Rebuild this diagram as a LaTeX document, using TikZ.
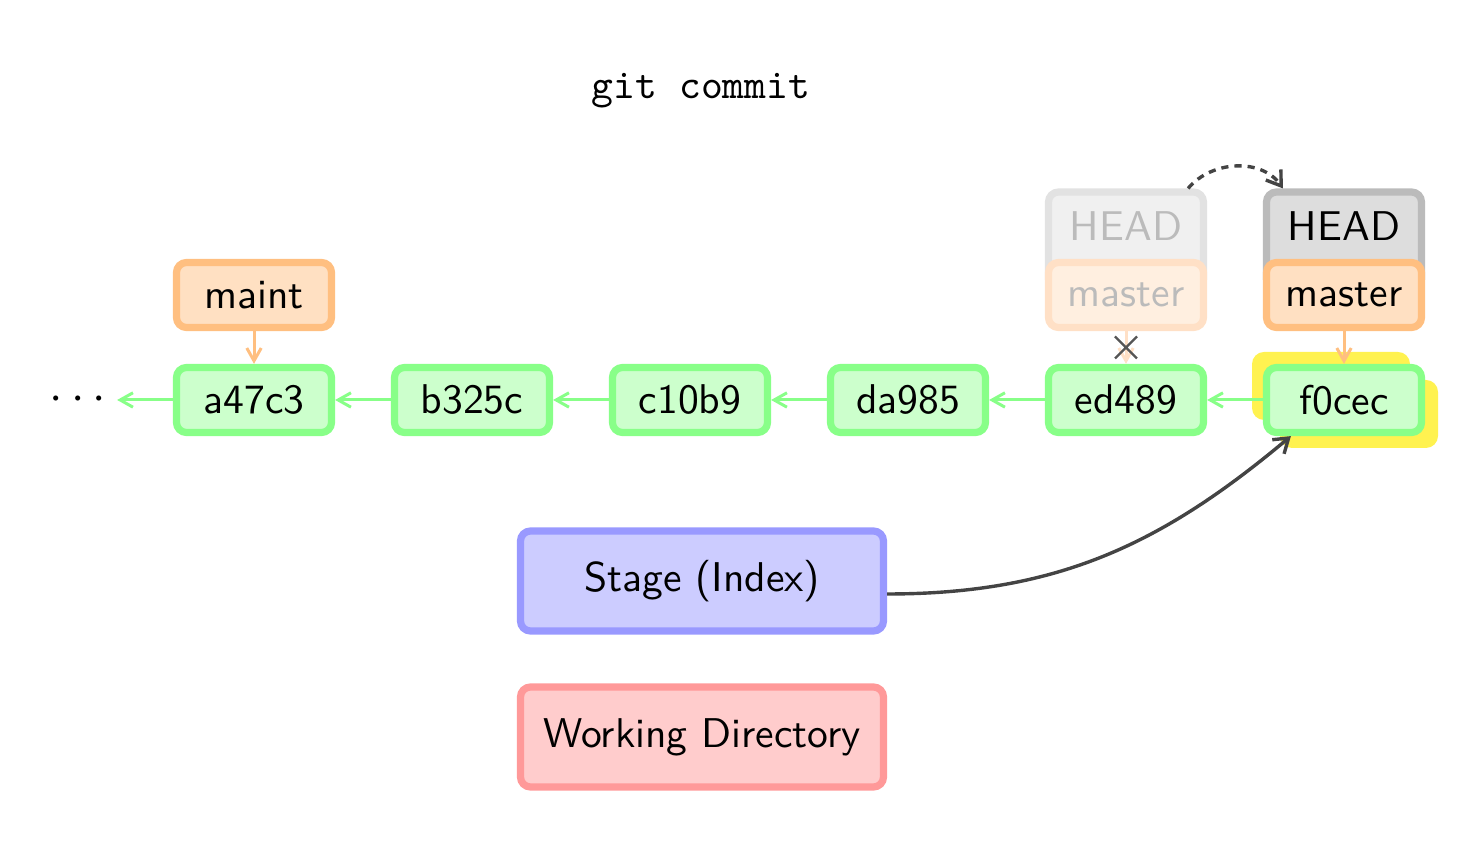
\documentclass[tikz,border=0pt]{standalone}
\usetikzlibrary{arrows.meta,calc}
\definecolor{cgreen}{HTML}{88FF88}
\definecolor{cgreenf}{HTML}{CCFFCC}
\definecolor{corange}{HTML}{FFBF80}
\definecolor{corangef}{HTML}{FFE0C2}
\definecolor{cgray}{HTML}{BBBBBB}
\definecolor{cgrayf}{HTML}{DDDDDD}
\definecolor{fgray}{HTML}{E2E2E2}
\definecolor{fgrayf}{HTML}{F0F0F0}
\definecolor{forange}{HTML}{FFE0C6}
\definecolor{forangef}{HTML}{FFEFE0}
\definecolor{ftext}{HTML}{BBBBBB}
\definecolor{cblue}{HTML}{9999FF}
\definecolor{cbluef}{HTML}{CCCCFF}
\definecolor{cred}{HTML}{FF9999}
\definecolor{credf}{HTML}{FFCCCC}
\definecolor{cyellow}{HTML}{FFF250}
\definecolor{cdark}{HTML}{444444}
\definecolor{ccross}{HTML}{555555}
\begin{document}
\begin{tikzpicture}[x=0.25pt,y=-0.25pt,
  font=\sffamily\fontsize{10.4}{12}\selectfont,
  box/.style={rounded corners=2.5pt, line width=1.8pt, minimum width=38.75pt,
    minimum height=16.25pt, inner sep=0pt},
  commit/.style={box, draw=cgreen, fill=cgreenf},
  branch/.style={box, draw=corange, fill=corangef},
  oldbranch/.style={box, draw=forange, fill=forangef, text=ftext},
  tallbox/.style={box, text height=12.25pt, text depth=12pt, anchor=base},
  headbox/.style={tallbox, draw=cgray, fill=cgrayf},
  oldheadbox/.style={tallbox, draw=fgray, fill=fgrayf, text=ftext},
  areabox/.style={rounded corners=2.5pt, line width=1.8pt, minimum width=90.75pt,
    minimum height=25pt, inner sep=0pt},
  garrow/.style={draw=cgreen, line width=0.75pt, -{Straight Barb[length=3.2pt,width=3.6pt]}},
  oarrow/.style={draw=corange, line width=0.75pt, -{Straight Barb[length=3.2pt,width=3.6pt]}},
  foarrow/.style={draw=forange, line width=0.75pt, -{Straight Barb[length=3.2pt,width=3.6pt]}},
  darrow/.style={draw=cdark, line width=0.85pt, -{Straight Barb[length=3.4pt,width=4.6pt]}},
  hl/.style={fill=cyellow, rounded corners=3pt}
]
\useasboundingbox (0,0) rectangle (1480,852);

% title
\node[font=\ttfamily\fontsize{10.4}{12}\selectfont] (title) at (701,91) {git commit};

% highlight behind f0cec
\fill[hl] (1252,352) rectangle (1410,420);
\fill[hl] (1280,380) rectangle (1438,448);

% commits
\node[inner sep=2.5pt, font=\fontsize{13}{14}\selectfont] (dots) at (78,400)
  {$\cdotp$\hspace{0.16em}$\cdotp$\hspace{0.16em}$\cdotp$};
\node[commit] (a47c3) at (254,400) {a47c3};
\node[commit] (b325c) at (472,400) {b325c};
\node[commit] (c10b9) at (690,400) {c10b9};
\node[commit] (da985) at (908,400) {da985};
\node[commit] (ed489) at (1126,400) {ed489};
\node[commit] (f0cec) at (1344,400) {f0cec};

% branches
\node[branch] (maint) at (254,295) {maint};
\node[oldheadbox] (oldhead) at (1126,241) {HEAD};
\node[oldbranch] (oldmaster) at (1126,295) {master};
\node[headbox] (head) at (1344,241) {HEAD};
\node[branch] (master) at (1344,295) {master};

% areas
\node[areabox, draw=cblue, fill=cbluef] (stage) at (702,581) {Stage (Index)};
\node[areabox, draw=cred, fill=credf] (work) at (702,737) {Working Directory};

% history arrows
\draw[garrow] (a47c3) -- (dots);
\draw[garrow] (b325c) -- (a47c3);
\draw[garrow] (c10b9) -- (b325c);
\draw[garrow] (da985) -- (c10b9);
\draw[garrow] (ed489) -- (da985);
\draw[garrow] (f0cec) -- (ed489);

% branch arrows
\draw[oarrow] (maint) -- (a47c3);
\draw[oarrow] (master) -- (f0cec);
\draw[foarrow] (oldmaster) -- (ed489);
\coordinate (xmark) at ($(oldmaster.south)!0.5!(ed489.north)$);
\draw[ccross, line width=0.6pt] ($(xmark)+(-11,-11)$) -- ($(xmark)+(11,11)$)
  ($(xmark)+(-11,11)$) -- ($(xmark)+(11,-11)$);

% HEAD move
\draw[darrow, dash pattern=on 1.8pt off 1.5pt]
  ($(oldhead.north east)+(-19,0)$) to[out=50,in=125] ($(head.north west)+(20,0)$);

% commit arrow
\draw[darrow] ($(stage.east)+(0,13)$) to[out=0,in=220] ($(f0cec.south west)+(28,0)$);
\end{tikzpicture}
\end{document}
